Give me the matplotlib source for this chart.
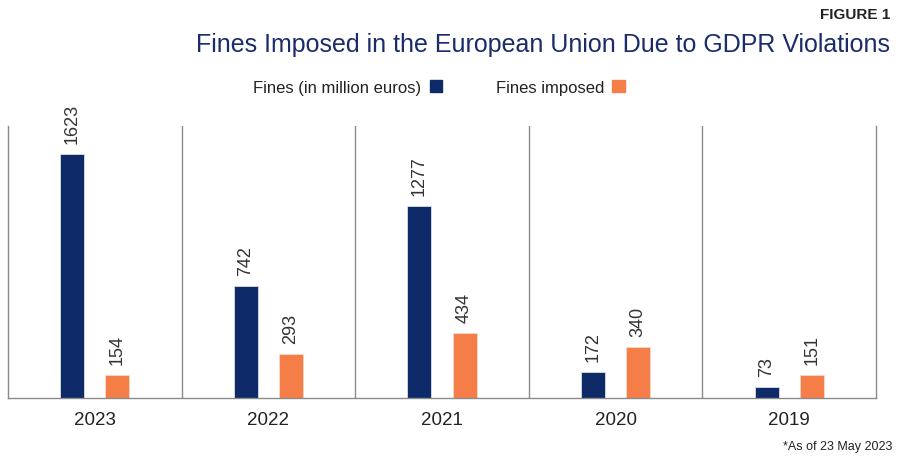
import matplotlib
matplotlib.use("Agg")
import matplotlib.pyplot as plt
import numpy as np
from matplotlib.patches import Patch

# data (groups left to right)
years = ['2023', '2022', '2021', '2020', '2019']
fines_meur = [1623, 742, 1277, 172, 73]
fines_count = [154, 293, 434, 340, 151]

navy = '#0e2a69'
orange = '#f47d48'
grey_line = '#8a8a8a'

plt.rcParams['font.family'] = ['Liberation Sans', 'DejaVu Sans']

fig = plt.figure(figsize=(9, 4.6), dpi=100)
ax = fig.add_axes([0.0089, 0.1326, 0.9644, 0.5913])

x = np.arange(len(years))
w = 0.138
off = 0.13

b1 = ax.bar(x - off, fines_meur, width=w, color=navy, edgecolor='#d9dde8', linewidth=0.6)
b2 = ax.bar(x + off, fines_count, width=w, color=orange, edgecolor='#fbd9c8', linewidth=0.6)

for bars in (b1, b2):
    for r in bars:
        ax.annotate(str(int(r.get_height())), (r.get_x() + r.get_width() / 2, r.get_height()),
                    xytext=(0, 8), textcoords='offset points', rotation=90,
                    ha='center', va='bottom', fontsize=13, color='#333333',
                    annotation_clip=False)

# group separators
for s in x[:-1] + 0.5:
    ax.axvline(s, color=grey_line, linewidth=1)

ax.set_xlim(-0.5, len(years) - 0.5)
ax.set_ylim(0, 1810)
ax.set_yticks([])
ax.set_xticks(x)
ax.set_xticklabels(years, fontsize=13.5, color='#222222')
ax.tick_params(axis='x', length=0, pad=9)
ax.spines['top'].set_visible(False)
for sp in ('left', 'right', 'bottom'):
    ax.spines[sp].set_color(grey_line)
    ax.spines[sp].set_linewidth(1)

# titles
fig.text(0.989, 0.968, 'FIGURE 1', ha='right', va='center', fontsize=11,
         fontweight='bold', color='#222222')
fig.text(0.989, 0.902, 'Fines Imposed in the European Union Due to GDPR Violations',
         ha='right', va='center', fontsize=18, color='#1b2c6b')

handles = [Patch(color=navy, label='Fines (in million euros)'),
           Patch(color=orange, label='Fines imposed')]
fig.legend(handles=handles, loc='center', bbox_to_anchor=(0.488, 0.808), ncol=2,
           frameon=False, markerfirst=False, fontsize=12, handlelength=0.75,
           handleheight=0.75, columnspacing=3.2, handletextpad=0.5, labelcolor='#222222')

fig.text(0.992, 0.028, '*As of 23 May 2023', ha='right', va='center', fontsize=9,
         color='#222222')

fig.savefig('out.png', dpi=100)
